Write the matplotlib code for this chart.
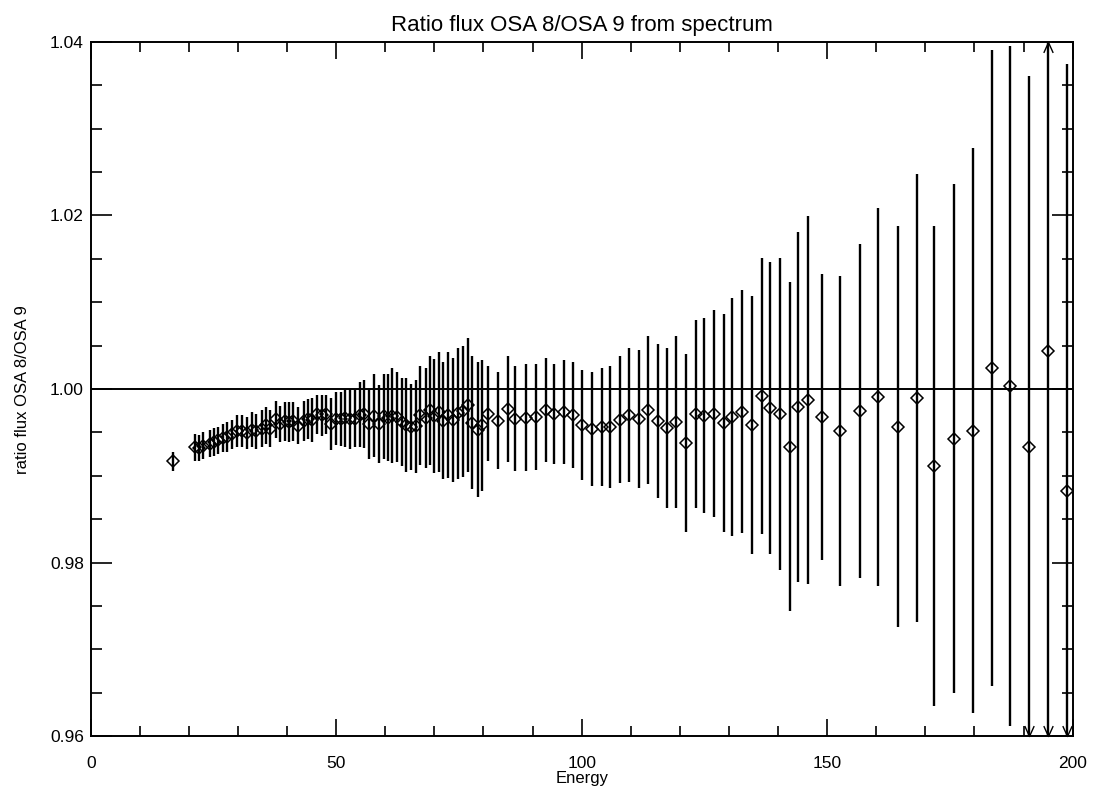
import numpy as np
import matplotlib
matplotlib.use("Agg")
import matplotlib.pyplot as plt
from matplotlib.path import Path
from matplotlib.ticker import MultipleLocator

plt.rcParams["font.family"] = ["Liberation Sans", "DejaVu Sans"]

# Flux ratio OSA 8 / OSA 9 per energy bin (keV), with 1-sigma errors
energy = [
    16.82,
    21.24, 22.06, 22.93, 24.30, 25.11, 25.99, 27.01, 27.82, 28.72, 29.86,
    30.75, 31.89, 32.79, 33.67, 34.83, 35.70, 36.52, 37.74, 38.55, 39.57,
    40.45, 41.26, 42.28, 43.44, 44.32, 45.01, 46.03, 47.05, 47.92, 49.04,
    49.96, 50.94, 51.89, 52.81, 53.83, 54.79, 55.66, 56.74, 57.70, 58.66,
    59.67, 60.49, 61.30, 62.44, 63.34, 64.28, 65.30, 66.25, 67.07, 68.23,
    69.10, 69.92, 71.00, 71.81, 72.71, 73.85, 74.75, 75.76, 76.78, 77.60,
    78.82, 79.76, 80.98, 82.89, 84.93, 86.42, 88.59, 90.63, 92.67, 94.36,
    96.40, 98.29, 100.00, 102.04, 104.07, 105.76, 107.80, 109.69, 111.73, 113.56,
    115.48, 117.43, 119.21, 121.24, 123.22, 124.91, 126.95, 128.98, 130.67, 132.65,
    134.68, 136.66, 138.35, 140.39, 142.42, 144.11, 146.15, 149.00, 152.67, 156.74,
    160.41, 164.48, 168.23, 171.81, 175.89, 179.63, 183.63, 187.29, 191.04, 195.03,
    198.78,
]
ratio = [
    0.99168,
    0.99329, 0.99323, 0.99349, 0.99372, 0.99393, 0.99410, 0.99435, 0.99445, 0.99478, 0.99522,
    0.99522, 0.99493, 0.99531, 0.99513, 0.99545, 0.99583, 0.99545, 0.99652, 0.99599, 0.99628,
    0.99618, 0.99628, 0.99580, 0.99634, 0.99657, 0.99643, 0.99710, 0.99700, 0.99710, 0.99600,
    0.99661, 0.99657, 0.99666, 0.99657, 0.99658, 0.99704, 0.99711, 0.99596, 0.99695, 0.99594,
    0.99685, 0.99671, 0.99695, 0.99677, 0.99622, 0.99586, 0.99563, 0.99569, 0.99696, 0.99667,
    0.99757, 0.99692, 0.99738, 0.99635, 0.99700, 0.99645, 0.99721, 0.99744, 0.99818, 0.99611,
    0.99532, 0.99583, 0.99715, 0.99635, 0.99771, 0.99658, 0.99672, 0.99680, 0.99762, 0.99714,
    0.99737, 0.99703, 0.99588, 0.99541, 0.99565, 0.99565, 0.99649, 0.99704, 0.99657, 0.99760,
    0.99634, 0.99553, 0.99622, 0.99380, 0.99714, 0.99695, 0.99718, 0.99611, 0.99681, 0.99741,
    0.99588, 0.99922, 0.99783, 0.99715, 0.99338, 0.99795, 0.99876, 0.99681, 0.99520, 0.99749,
    0.99911, 0.99567, 0.99900, 0.99115, 0.99430, 0.99522, 1.00245, 1.00040, 0.99329, 1.00444,
    0.98831,
]
ratio_err = [
    0.00112,
    0.00153, 0.00147, 0.00153, 0.00158, 0.00159, 0.00158, 0.00164, 0.00173, 0.00167, 0.00184,
    0.00184, 0.00182, 0.00202, 0.00202, 0.00215, 0.00215, 0.00215, 0.00215, 0.00211, 0.00221,
    0.00230, 0.00221, 0.00211, 0.00227, 0.00230, 0.00256, 0.00227, 0.00236, 0.00227, 0.00298,
    0.00302, 0.00308, 0.00328, 0.00346, 0.00328, 0.00374, 0.00391, 0.00407, 0.00480, 0.00448,
    0.00490, 0.00505, 0.00545, 0.00521, 0.00505, 0.00540, 0.00497, 0.00537, 0.00573, 0.00577,
    0.00627, 0.00656, 0.00688, 0.00676, 0.00726, 0.00714, 0.00752, 0.00755, 0.00772, 0.00767,
    0.00779, 0.00753, 0.00547, 0.00561, 0.00613, 0.00605, 0.00619, 0.00611, 0.00597, 0.00576,
    0.00599, 0.00611, 0.00634, 0.00657, 0.00680, 0.00703, 0.00734, 0.00770, 0.00795, 0.00853,
    0.00887, 0.00922, 0.00991, 0.01025, 0.01083, 0.01126, 0.01195, 0.01256, 0.01369, 0.01402,
    0.01486, 0.01590, 0.01682, 0.01795, 0.01897, 0.02016, 0.02120, 0.01645, 0.01783, 0.01924,
    0.02175, 0.02311, 0.02578, 0.02762, 0.02934, 0.03257, 0.03664, 0.03917, 0.04282, 0.05000,
    0.04916,
]

x_ticks = [0, 50, 100, 150, 200]
y_ticks = [0.96, 0.98, 1.00, 1.02, 1.04]
x_min, x_max = 0, 200
y_min, y_max = 0.96, 1.04

energy = np.array(energy)
ratio = np.array(ratio)
ratio_err = np.array(ratio_err)

fig = plt.figure(figsize=(10.93, 7.90), dpi=100)
ax = fig.add_axes([0.083, 0.068, 0.8984, 0.879])

ax.errorbar(energy, ratio, yerr=ratio_err, fmt="D", ms=6.5, mfc="none",
            mec="black", mew=1.1, ecolor="black", elinewidth=1.7, capsize=0)
ax.axhline(1.0, color="black", lw=1.4)

# open arrow heads where an error bar runs off the plot
down_v = Path([(-0.45, 1.0), (0.0, 0.0), (0.45, 1.0)],
              [Path.MOVETO, Path.LINETO, Path.LINETO])
up_v = Path([(-0.45, -1.0), (0.0, 0.0), (0.45, -1.0)],
            [Path.MOVETO, Path.LINETO, Path.LINETO])
low = energy[ratio - ratio_err < y_min]
high = energy[ratio + ratio_err > y_max]
ax.plot(low, np.full(len(low), y_min), ls="none", marker=down_v, ms=15,
        mfc="none", mec="black", mew=1.0, clip_on=False)
ax.plot(high, np.full(len(high), y_max), ls="none", marker=up_v, ms=15,
        mfc="none", mec="black", mew=1.0, clip_on=False)

ax.set_xlim(x_min, x_max)
ax.set_ylim(y_min, y_max)
ax.set_xticks(x_ticks)
ax.set_yticks(y_ticks)
ax.set_yticklabels([f"{v:.2f}" for v in y_ticks])
ax.xaxis.set_minor_locator(MultipleLocator(10))
ax.yaxis.set_minor_locator(MultipleLocator(0.005))

ax.tick_params(axis="x", which="major", direction="in", length=12, width=1.2,
               top=True, labelsize=12.5, pad=14)
ax.tick_params(axis="x", which="minor", direction="in", length=7, width=1.2, top=True)
ax.tick_params(axis="y", which="major", direction="in", length=15, width=1.2,
               right=True, labelsize=12.5, pad=5)
ax.tick_params(axis="y", which="minor", direction="in", length=8, width=1.2, right=True)
for spine in ax.spines.values():
    spine.set_linewidth(1.4)

ax.set_xlabel("Energy", fontsize=12, labelpad=0)
ax.set_ylabel("ratio flux OSA 8/OSA 9", fontsize=12, labelpad=14)
ax.set_title("Ratio flux OSA 8/OSA 9 from spectrum", fontsize=16, pad=8)

fig.savefig("out.png", dpi=100)
